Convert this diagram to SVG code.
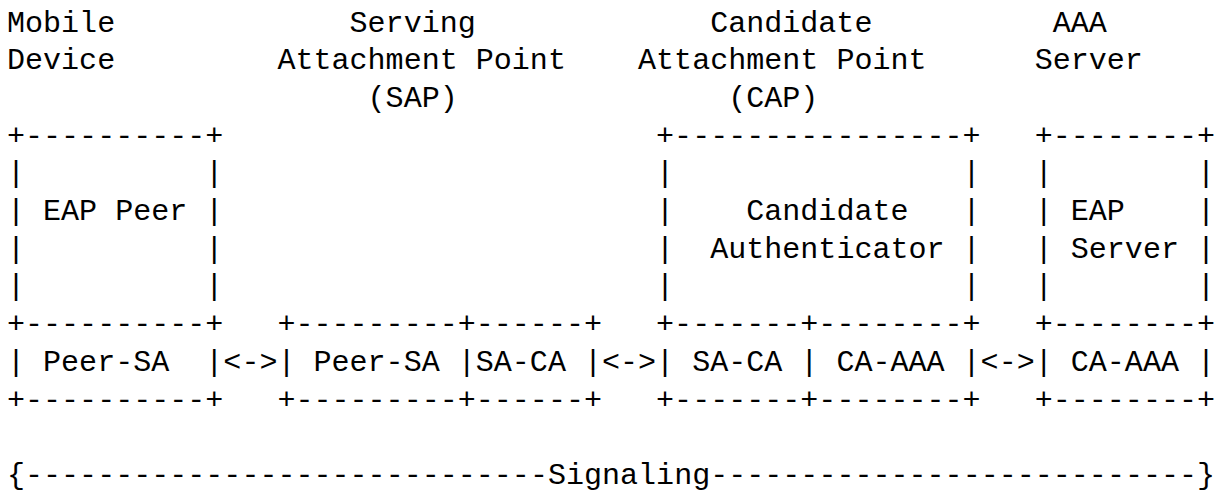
<svg xmlns="http://www.w3.org/2000/svg" width="1221" height="492" viewBox="0 0 1221 492" xml:space="preserve">
<style>
text{font-family:"Liberation Mono","DejaVu Sans Mono",monospace;font-size:30.05px;fill:#000;white-space:pre}
</style>
<rect width="1221" height="492" fill="#fff"/>
<g id="mobile-device">
<text x="7" y="31.5">Mobile</text>
<text x="7" y="69.2">Device</text>
<text x="7" y="144.6">+----------+</text>
<text x="7" y="182.3">|          |</text>
<text x="7" y="220">| EAP Peer |</text>
<text x="7" y="257.7">|          |</text>
<text x="7" y="295.4">|          |</text>
<text x="7" y="333.1">+----------+</text>
<text x="7" y="370.8">| Peer-SA  |</text>
<text x="7" y="408.5">+----------+</text>
</g>
<g id="serving-ap">
<text x="349.57" y="31.5">Serving</text>
<text x="277.45" y="69.2">Attachment Point</text>
<text x="367.6" y="106.9">(SAP)</text>
<text x="277.45" y="333.1">+---------+------+</text>
<text x="277.45" y="370.8">| Peer-SA |SA-CA |</text>
<text x="277.45" y="408.5">+---------+------+</text>
</g>
<g id="candidate-ap">
<text x="710.17" y="31.5">Candidate</text>
<text x="638.05" y="69.2">Attachment Point</text>
<text x="728.2" y="106.9">(CAP)</text>
<text x="656.08" y="144.6">+----------------+</text>
<text x="656.08" y="182.3">|                |</text>
<text x="656.08" y="220">|    Candidate   |</text>
<text x="656.08" y="257.7">|  Authenticator |</text>
<text x="656.08" y="295.4">|                |</text>
<text x="656.08" y="333.1">+-------+--------+</text>
<text x="656.08" y="370.8">| SA-CA | CA-AAA |</text>
<text x="656.08" y="408.5">+-------+--------+</text>
</g>
<g id="aaa-server">
<text x="1052.74" y="31.5">AAA</text>
<text x="1034.71" y="69.2">Server</text>
<text x="1034.71" y="144.6">+--------+</text>
<text x="1034.71" y="182.3">|        |</text>
<text x="1034.71" y="220">| EAP    |</text>
<text x="1034.71" y="257.7">| Server |</text>
<text x="1034.71" y="295.4">|        |</text>
<text x="1034.71" y="333.1">+--------+</text>
<text x="1034.71" y="370.8">| CA-AAA |</text>
<text x="1034.71" y="408.5">+--------+</text>
</g>
<g id="connectors">
<text x="223.36" y="370.8">&lt;-&gt;</text>
<text x="601.99" y="370.8">&lt;-&gt;</text>
<text x="980.62" y="370.8">&lt;-&gt;</text>
<text x="7" y="483.9">{-----------------------------Signaling---------------------------}</text>
</g>
</svg>
